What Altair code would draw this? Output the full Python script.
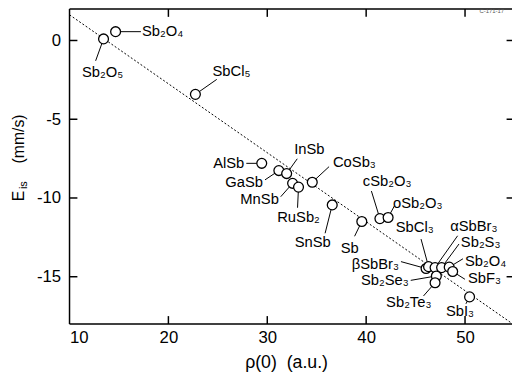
import altair as alt
import pandas as pd

# ---- data ----
names = ["Sb₂O₅", "Sb₂O₄", "SbCl₅", "AlSb", "GaSb", "InSb", "MnSb", "RuSb₂",
         "CoSb₃", "SnSb", "Sb", "cSb₂O₃", "oSb₂O₃", "βSbBr₃", "SbCl₃",
         "αSbBr₃", "Sb₂S₃", "Sb₂O₄", "SbF₃", "Sb₂Se₃", "Sb₂Te₃", "SbI₃"]
rho = [13.44, 14.66, 22.73, 29.44, 31.17, 31.96, 32.56, 33.16,
       34.55, 36.57, 39.56, 41.39, 42.22, 46.06, 46.31,
       46.97, 47.63, 48.40, 48.75, 47.10, 46.97, 50.46]
eis = [0.10, 0.56, -3.42, -7.80, -8.26, -8.45, -9.07, -9.31,
       -9.00, -10.44, -11.49, -11.31, -11.24, -14.48, -14.36,
       -14.42, -14.42, -14.39, -14.67, -14.95, -15.38, -16.28]

# annotation placement (data units)
label_x = [13.34, 17.32, 26.38, 27.68, 29.57, 34.25, 31.17, 33.16,
           36.64, 34.60, 38.34, 42.12, 42.72, 43.32, 44.91,
           50.89, 51.58, 49.99, 50.29, 44.31, 44.31, 49.49]
label_y = [-2.03, 0.58, -1.97, -7.79, -9.00, -6.92, -10.06, -11.24,
           -7.73, -12.77, -13.17, -8.94, -10.31, -14.17, -11.87,
           -11.81, -12.80, -13.98, -15.10, -15.23, -16.63, -17.16]
label_align = ["center", "left", "center", "right", "right", "center", "right", "center",
               "left", "center", "center", "center", "left", "right", "center",
               "center", "center", "left", "left", "right", "center", "center"]
lead_x = [12.64, 17.22, 24.89, 27.88, 29.77, 33.03, 31.36, 33.06,
          36.25, 35.85, 38.83, 40.53, 42.86, 43.52, 45.55,
          49.25, 49.39, 49.79, 49.99, 44.51, 45.80, 50.09]
lead_y = [-1.29, 0.56, -2.47, -7.80, -8.85, -7.51, -9.92, -10.62,
          -8.01, -12.24, -12.43, -9.56, -10.50, -14.04, -12.61,
          -12.40, -12.92, -13.86, -15.16, -15.23, -16.22, -16.72]

fit_x = [10.0, 54.6]
fit_y = [1.63, -17.9]

x_ticks = [20, 30, 40, 50]
x_labels = [10, 20, 30, 40, 50]
y_ticks = [0, -5, -10, -15]

df = pd.DataFrame({"name": names, "rho": rho, "eis": eis,
                   "lx": label_x, "ly": label_y, "align": label_align,
                   "ex": lead_x, "ey": lead_y})
fit = pd.DataFrame({"x": fit_x, "y": fit_y})
xt = pd.DataFrame({"v": x_ticks})
yt = pd.DataFrame({"v": y_ticks})

W, H = 449.5, 320
FONT = "Liberation Sans"

xs = alt.Scale(domain=[10, 54.75], nice=False, zero=False)
ys = alt.Scale(domain=[-18, 2], nice=False, zero=False)

base = alt.Chart(df)

fitline = alt.Chart(fit).mark_line(
    strokeDash=[2, 2], strokeWidth=1, color="black", clip=True
).encode(
    x=alt.X("x:Q", scale=xs,
            axis=alt.Axis(values=x_labels, title=None, ticks=False, tickSize=0,
                          domain=False, grid=False, labelFont=FONT, labelFontSize=17,
                          labelColor="black", labelPadding=6)),
    y=alt.Y("y:Q", scale=ys,
            axis=alt.Axis(values=y_ticks, title=None, ticks=False, tickSize=0,
                          domain=False, grid=False, labelFont=FONT, labelFontSize=17,
                          labelColor="black", labelPadding=9,
                          labelExpr="'' + datum.value")),
)

leads = base.mark_rule(color="black", strokeWidth=1).encode(
    x=alt.X("rho:Q", scale=xs), y=alt.Y("eis:Q", scale=ys),
    x2="ex:Q", y2="ey:Q")

pts = base.mark_point(shape="circle", size=100, fill="white", stroke="black",
                      strokeWidth=1.3, opacity=1, fillOpacity=1).encode(
    x=alt.X("rho:Q", scale=xs), y=alt.Y("eis:Q", scale=ys))

def labels(al):
    return base.transform_filter(alt.datum.align == al).mark_text(
        align=al, baseline="middle", font=FONT, fontSize=15, color="black"
    ).encode(x=alt.X("lx:Q", scale=xs), y=alt.Y("ly:Q", scale=ys), text="name:N")

tk = dict(color="black", strokeWidth=1.5)
bt = alt.Chart(xt).mark_rule(**tk).encode(
    x=alt.X("v:Q", scale=xs), y=alt.value(H), y2=alt.value(H - 8))
tt = alt.Chart(xt).mark_rule(**tk).encode(
    x=alt.X("v:Q", scale=xs), y=alt.value(0), y2=alt.value(8))
lt = alt.Chart(yt).mark_rule(**tk).encode(
    y=alt.Y("v:Q", scale=ys), x=alt.value(0), x2=alt.value(8))
rt = alt.Chart(yt).mark_rule(**tk).encode(
    y=alt.Y("v:Q", scale=ys), x=alt.value(W + 2.5), x2=alt.value(W - 5.5))

one = pd.DataFrame({"a": [0]})
fr = dict(color="black", strokeWidth=1.5)
frame = [
    alt.Chart(one).mark_rule(**fr).encode(x=alt.value(0), x2=alt.value(W + 3), y=alt.value(0)),
    alt.Chart(one).mark_rule(**fr).encode(x=alt.value(0), x2=alt.value(W + 3), y=alt.value(H)),
    alt.Chart(one).mark_rule(**fr).encode(x=alt.value(0), y=alt.value(0), y2=alt.value(H)),
]

def ttl(txt, x, y, size, angle=0, align="center", baseline="alphabetic", color="black"):
    return alt.Chart(one).mark_text(
        text=txt, font=FONT, fontSize=size, angle=angle, align=align,
        baseline=baseline, color=color
    ).encode(x=alt.value(x), y=alt.value(y))

titles = [
    ttl("E", -46.5, 190, 16, angle=270),
    ttl("is", -43.0, 179, 11, angle=270),
    ttl("(mm/s)", -46.5, 132, 16, angle=270),
    ttl("ρ(0)\u00a0 (a.u.)", 220.5, 360, 18, baseline="middle"),
    ttl("C-171-17", 416.5, 2, 6, align="left", baseline="middle", color="#555555"),
]

chart = alt.layer(
    fitline, leads, pts, labels("left"), labels("right"), labels("center"),
    bt, tt, lt, rt, *frame, *titles
).properties(
    width=W, height=H,
    autosize=alt.AutoSizeParams(type="none"),
    padding={"left": 62.5, "top": -2, "right": 0, "bottom": 60},
).configure_view(stroke=None)

chart.save("out.html", embed_options={"renderer": "svg", "actions": False})
